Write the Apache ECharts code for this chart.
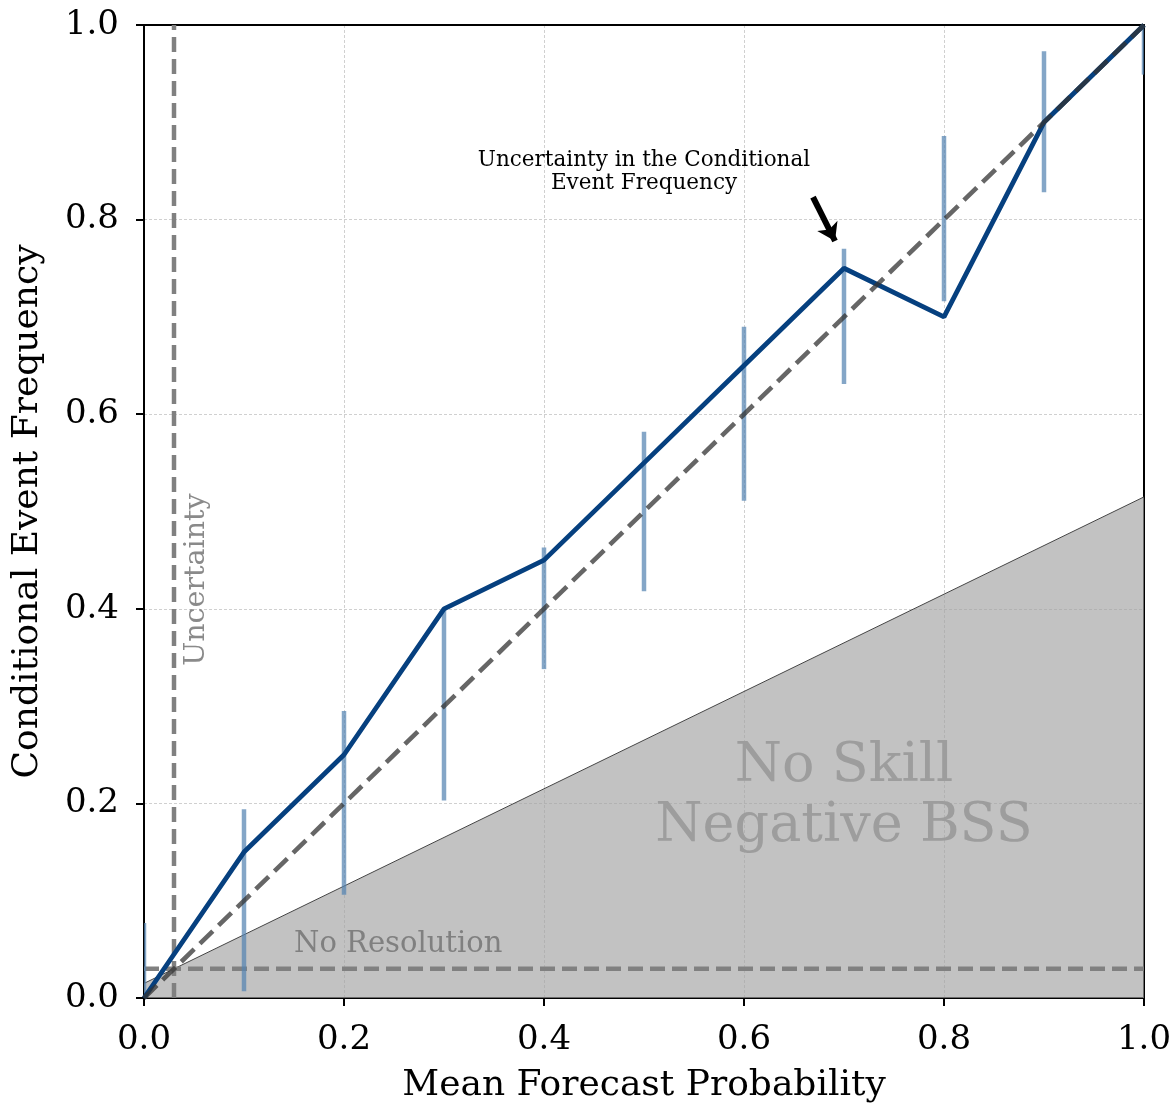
<!DOCTYPE html>
<html>
<head>
<meta charset="utf-8">
<script src="https://cdn.jsdelivr.net/npm/echarts@6/dist/echarts.min.js"></script>
<style>
html,body{margin:0;padding:0;background:#fff;}
#chart{width:1175px;height:1109px;}
</style>
</head>
<body>
<div id="chart"></div>
<script>
// ---- data ----
const forecastProb = [0.0, 0.1, 0.2, 0.3, 0.4, 0.5, 0.6, 0.7, 0.8, 0.9, 1.0];
const eventFreq    = [0.0, 0.15, 0.25, 0.40, 0.45, 0.55, 0.65, 0.75, 0.70, 0.90, 1.0];
const errLow       = [-0.077, 0.007, 0.106, 0.203, 0.338, 0.418, 0.511, 0.631, 0.716, 0.828, 0.949];
const errHigh      = [0.077, 0.194, 0.295, 0.400, 0.463, 0.582, 0.690, 0.770, 0.886, 0.973, 1.051];
const climatology  = 0.03;
const axisTicks    = [0.0, 0.2, 0.4, 0.6, 0.8, 1.0];
const xTitle = 'Mean Forecast Probability';
const yTitle = 'Conditional Event Frequency';

const FONT = '"DejaVu Serif", "Liberation Serif", serif';

const lineData = forecastProb.map((x, i) => [x, eventFreq[i]]);
const errData = forecastProb.map((x, i) => [x, errLow[i], errHigh[i]]);
const noSkill = [[0, climatology / 2], [1, (1 + climatology) / 2]];
const perfect = [[0, 0], [1, 1]];
const climoV = [[climatology, 0], [climatology, 1]];
const climoH = [[0, climatology], [1, climatology]];

const chart = echarts.init(document.getElementById('chart'), null, {renderer: 'canvas'});

const axisCommon = {
  type: 'value', min: 0, max: 1, interval: 0.2,
  axisLine: {show: true, onZero: false, lineStyle: {color: '#000', width: 2}},
  axisTick: {show: true, inside: false, length: 8, lineStyle: {color: '#000', width: 2}},
  axisLabel: {fontFamily: FONT, fontSize: 34, color: '#000',
              formatter: v => v.toFixed(1)},
  splitLine: {show: true, lineStyle: {color: '#c4c4c4', width: 0.8, type: [3, 2]}},
  nameLocation: 'middle',
  nameTextStyle: {fontFamily: FONT, fontSize: 36, color: '#000'}
};

chart.setOption({
  animation: false,
  backgroundColor: '#fff',
  grid: {left: 144, right: 31, top: 25, bottom: 107, containLabel: false},
  xAxis: [
    Object.assign({}, axisCommon, {position: 'bottom', name: xTitle, nameGap: 70,
      axisLabel: Object.assign({}, axisCommon.axisLabel, {margin: 25})}),
    {type: 'value', min: 0, max: 1, position: 'top', axisLine: {show: true, onZero: false, lineStyle: {color: '#000', width: 2}},
     axisTick: {show: false}, axisLabel: {show: false}, splitLine: {show: false}}
  ],
  yAxis: [
    Object.assign({}, axisCommon, {position: 'left', name: yTitle, nameGap: 98,
      axisLabel: Object.assign({}, axisCommon.axisLabel, {margin: 25})}),
    {type: 'value', min: 0, max: 1, position: 'right', axisLine: {show: true, onZero: false, lineStyle: {color: '#000', width: 2}},
     axisTick: {show: false}, axisLabel: {show: false}, splitLine: {show: false}}
  ],
  series: [
    {
      type: 'line', data: noSkill, symbol: 'none', z: 1,
      lineStyle: {color: '#444', width: 1},
      areaStyle: {color: '#a2a2a2', opacity: 0.66, origin: 'start'}
    },
    {
      type: 'line', data: climoV, symbol: 'none', z: 2,
      lineStyle: {color: '#808080', width: 4.5, type: [15, 7]}
    },
    {
      type: 'line', data: climoH, symbol: 'none', z: 2,
      lineStyle: {color: '#808080', width: 4.5, type: [15, 7]}
    },
    {
      type: 'custom', data: errData, z: 3, clip: true,
      renderItem: function (params, api) {
        const p1 = api.coord([api.value(0), api.value(1)]);
        const p2 = api.coord([api.value(0), api.value(2)]);
        return {
          type: 'line',
          shape: {x1: p1[0], y1: p1[1], x2: p2[0], y2: p2[1]},
          style: {stroke: '#5583b2', lineWidth: 4.5, opacity: 0.72}
        };
      }
    },
    {
      type: 'line', data: lineData, symbol: 'none', z: 4,
      lineStyle: {color: '#06407f', width: 4.8}
    },
    {
      type: 'line', data: perfect, symbol: 'none', z: 5,
      lineStyle: {color: '#333', width: 4.6, type: [18, 8], opacity: 0.75},
      markLine: {
        silent: true, animation: false,
        symbol: ['none', 'arrow'], symbolSize: [17, 17],
        label: {show: false},
        lineStyle: {color: '#000', width: 6, type: 'solid', opacity: 1},
        data: [[{coord: [0.669, 0.823]}, {coord: [0.691, 0.778]}]]
      }
    }
  ]
});

function px(x, y) { return chart.convertToPixel({xAxisIndex: 0, yAxisIndex: 0}, [x, y]); }

const pSkill = px(0.70, 0.207);
const pRes = px(0.15, 0.055);
const pUnc = px(0.053, 0.43);
const pAnn = px(0.50, 0.849);

chart.setOption({
  graphic: [
    {type: 'text', x: pSkill[0], y: pSkill[1], z: 10,
     style: {text: 'No Skill\nNegative BSS', fontFamily: FONT, fontSize: 54, fill: '#9d9d9d',
             align: 'center', verticalAlign: 'middle', lineHeight: 60}},
    {type: 'text', x: pRes[0], y: pRes[1], z: 10,
     style: {text: 'No Resolution', fontFamily: FONT, fontSize: 29, fill: '#808080',
             align: 'left', verticalAlign: 'middle'}},
    {type: 'text', x: pUnc[0], y: pUnc[1], rotation: Math.PI / 2, z: 10,
     style: {text: 'Uncertainty', fontFamily: FONT, fontSize: 28.5, fill: '#8a8a8a',
             align: 'center', verticalAlign: 'middle'}},
    {type: 'text', x: pAnn[0], y: pAnn[1], z: 10,
     style: {text: 'Uncertainty in the Conditional\nEvent Frequency', fontFamily: FONT, fontSize: 21.5, fill: '#000',
             align: 'center', verticalAlign: 'middle', lineHeight: 23}}
  ]
});
</script>
</body>
</html>
